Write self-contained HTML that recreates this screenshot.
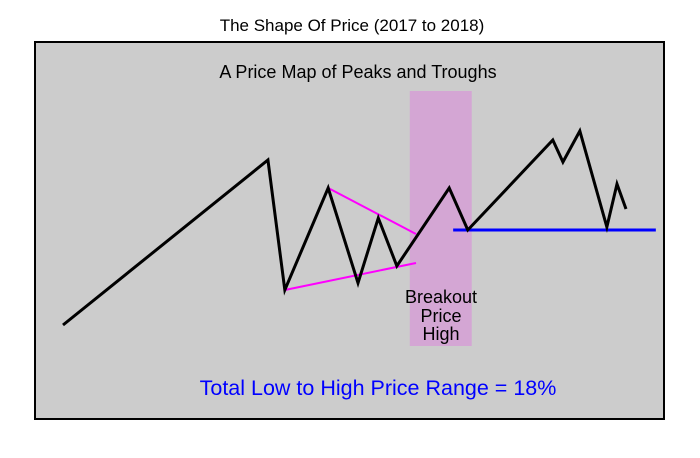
<!DOCTYPE html>
<html><head><meta charset="utf-8"><style>
body{margin:0;background:#fff;width:700px;height:458px;overflow:hidden}
svg{display:block;font-family:"Liberation Sans",Arial,sans-serif}
</style></head><body>
<svg id="chart" width="700" height="458">
<text x="352" y="31" text-anchor="middle" font-size="17" fill="#000">The Shape Of Price (2017 to 2018)</text>
<rect x="35" y="42" width="629" height="377" fill="#cccccc" stroke="#000" stroke-width="2"/>
<text x="358" y="78" text-anchor="middle" font-size="18" fill="#000">A Price Map of Peaks and Troughs</text>
<g id="marks"></g>
<text x="441" y="303" text-anchor="middle" font-size="18" fill="#000"><tspan x="441">Breakout</tspan><tspan x="441" dy="19">Price</tspan><tspan x="441" dy="18">High</tspan></text>
<text x="378" y="395" text-anchor="middle" font-size="21.5" fill="#0000ff">Total Low to High Price Range = 18%</text>
</svg>
<script>
const times=[0,36.4,39.4,47.1,52.4,56.0,59.3,68.6,71.9,87.0,88.8,91.8,96.6,98.4,100];
const prices=[7.5,90,25,76,28.5,61,37,76,55,100,89,104.5,56.5,78,65.5];
const upperTrendT=[47.1,62.7];
const upperTrendP=[76,53];
const lowerTrendT=[39.4,62.7];
const lowerTrendP=[25,38.5];
const supportT=[69.3,105.3];
const supportP=[55,55];
const bandT=[61.6,72.6];
const bandP=[-3,124.5];
const xs=t=>63+t*5.63;
const ys=p=>340-p*2;
const NS="http://www.w3.org/2000/svg";
const g=document.getElementById('marks');
function mk(tag,attrs){const e=document.createElementNS(NS,tag);for(const k in attrs)e.setAttribute(k,attrs[k]);g.appendChild(e);return e;}
const band=mk('rect',{x:xs(bandT[0]),y:ys(bandP[1]),width:xs(bandT[1])-xs(bandT[0]),height:ys(bandP[0])-ys(bandP[1]),fill:'#d4a6d4'});


const up=mk('line',{x1:xs(upperTrendT[0]),y1:ys(upperTrendP[0]),x2:xs(upperTrendT[1]),y2:ys(upperTrendP[1]),stroke:'#ff00ff','stroke-width':2});


const lo=mk('line',{x1:xs(lowerTrendT[0]),y1:ys(lowerTrendP[0]),x2:xs(lowerTrendT[1]),y2:ys(lowerTrendP[1]),stroke:'#ff00ff','stroke-width':2});


const sup=mk('line',{x1:xs(supportT[0]),y1:ys(supportP[0]),x2:xs(supportT[1]),y2:ys(supportP[1]),stroke:'#0000ff','stroke-width':3});


const pl=mk('polyline',{points:times.map((t,i)=>xs(t)+','+ys(prices[i])).join(' '),fill:'none',stroke:'#000','stroke-width':3,'stroke-linejoin':'miter'});


</script>
</body></html>
